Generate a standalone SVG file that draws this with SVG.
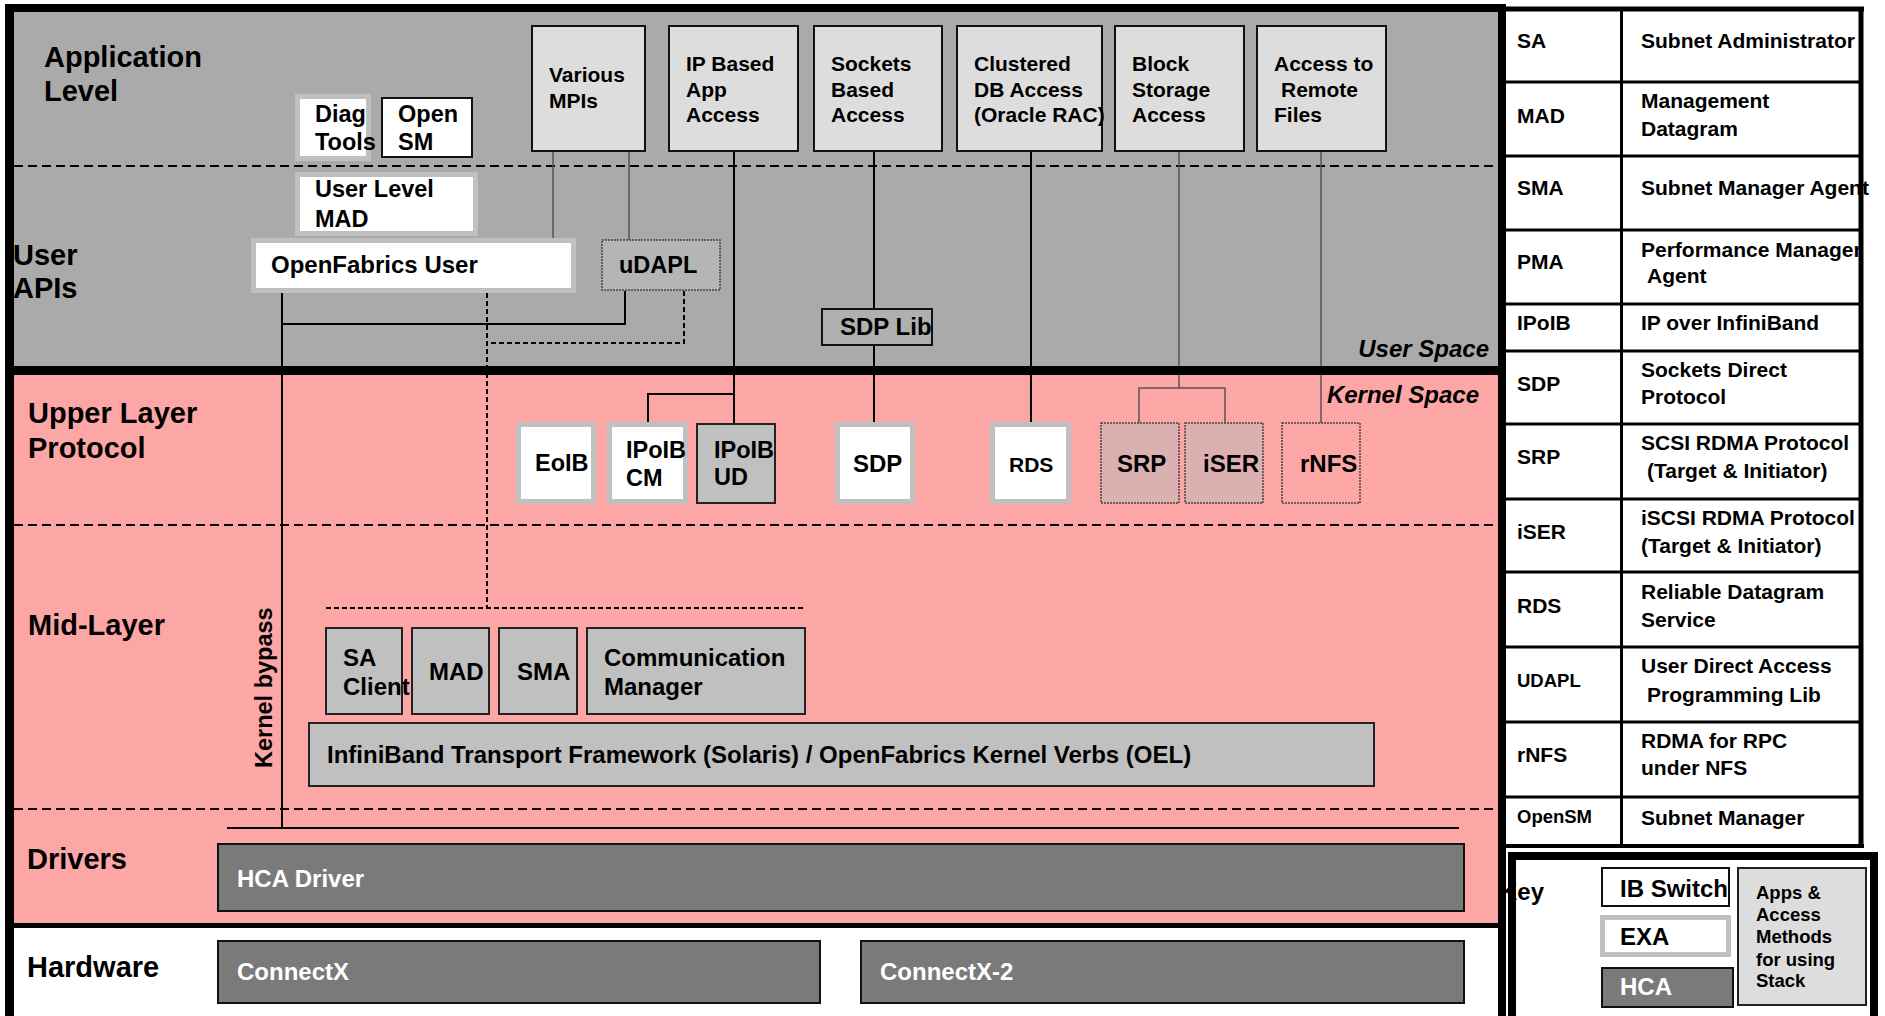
<svg xmlns="http://www.w3.org/2000/svg" width="1885" height="1016" viewBox="0 0 1885 1016">
<style>
text{font-family:"Liberation Sans",Arial,sans-serif;font-weight:bold;fill:#000}
.lbl{font-size:29px}
.f21{font-size:21px}
.f23{font-size:23.5px}
.f24{font-size:24px}
.f18{font-size:18.5px}
.wt{fill:#fff}
.it{font-style:italic;font-size:24px}
.app{fill:#dddddd;stroke:#111;stroke-width:2}
.wg{fill:#fff;stroke:#c0c0c0;stroke-width:5}
.bw{fill:#fff;stroke:#111;stroke-width:2}
.mid{fill:#c0c0c0;stroke:#222;stroke-width:2}
.dark{fill:#7a7a7a;stroke:#111;stroke-width:2}
.dot{stroke:#444;stroke-width:1.5;stroke-dasharray:2 1}
.sec{fill:none;stroke:#000;stroke-width:2;stroke-dasharray:9 5}
.sd{fill:none;stroke:#000;stroke-width:2;stroke-dasharray:5 3}
.sl{fill:none;stroke:#000;stroke-width:2}
.gl{fill:none;stroke:#555;stroke-width:1.5}
.tl{stroke:#000;stroke-width:3}
</style>
<defs>
<clipPath id="clipPerf"><rect x="1621" y="230" width="238" height="74"/></clipPath>
</defs>

<!-- main frame and layers -->
<g id="frame">
<rect x="5" y="4" width="1501" height="1012" fill="#000"/>
<rect x="14" y="12" width="1484" height="354" fill="#aaaaaa"/>
<rect x="14" y="375" width="1484" height="548" fill="#fda6a6"/>
<rect x="14" y="928" width="1484" height="88" fill="#ffffff"/>
<line class="sec" x1="14" y1="166" x2="1498" y2="166"/>
<line class="sec" x1="14" y1="525" x2="1498" y2="525"/>
<line class="sec" x1="14" y1="809" x2="1498" y2="809"/>
<text class="lbl" x="44" y="67">Application</text>
<text class="lbl" x="44" y="101">Level</text>
<text class="lbl" x="13" y="265">User</text>
<text class="lbl" x="13" y="298">APIs</text>
<text class="lbl" x="28" y="423">Upper Layer</text>
<text class="lbl" x="28" y="458">Protocol</text>
<text class="lbl" x="28" y="635">Mid-Layer</text>
<text class="lbl" x="27" y="869">Drivers</text>
<text class="lbl" x="27" y="977">Hardware</text>
<text class="it" x="1489" y="357" text-anchor="end">User Space</text>
<text class="it" x="1479" y="403" text-anchor="end">Kernel Space</text>
<text class="f23" x="272" y="768" transform="rotate(-90 272 768)">Kernel bypass</text>
</g>

<!-- connectors -->
<g id="connectors">
<line class="gl" x1="553" y1="151" x2="553" y2="239"/>
<line class="gl" x1="629" y1="151" x2="629" y2="240"/>
<polyline class="sl" points="734,151 734,424"/>
<polyline class="sl" points="648,422 648,394 734,394"/>
<line class="sl" x1="874" y1="151" x2="874" y2="309"/>
<line class="sl" x1="874" y1="345" x2="874" y2="422"/>
<line class="sl" x1="1031" y1="151" x2="1031" y2="422"/>
<line class="gl" x1="1179" y1="151" x2="1179" y2="388"/>
<polyline class="gl" points="1139,423 1139,388 1225,388 1225,423"/>
<line class="gl" x1="1321" y1="151" x2="1321" y2="423"/>
<line class="sl" x1="282" y1="293" x2="282" y2="828"/>
<polyline class="sl" points="625,291 625,324 282,324"/>
<line class="sd" x1="487" y1="293" x2="487" y2="608"/>
<polyline class="sd" points="684,291 684,343 487,343"/>
<line class="sd" x1="326" y1="608" x2="805" y2="608"/>
<line class="sl" x1="227" y1="828" x2="1459" y2="828"/>
</g>

<!-- user/kernel separators drawn over connectors -->
<g id="separators">
<rect x="14" y="366" width="1484" height="9" fill="#000"/>
<rect x="14" y="923" width="1484" height="5" fill="#000"/>
</g>

<!-- application level -->
<g id="various-mpis"><rect class="app" x="532" y="26" width="113" height="125"/><text class="f21" x="549" y="82">Various</text><text class="f21" x="549" y="108">MPIs</text></g>
<g id="ip-based"><rect class="app" x="669" y="26" width="129" height="125"/><text class="f21" x="686" y="71">IP Based</text><text class="f21" x="686" y="97">App</text><text class="f21" x="686" y="122">Access</text></g>
<g id="sockets-based"><rect class="app" x="814" y="26" width="128" height="125"/><text class="f21" x="831" y="71">Sockets</text><text class="f21" x="831" y="97">Based</text><text class="f21" x="831" y="122">Access</text></g>
<g id="clustered-db"><rect class="app" x="957" y="26" width="145" height="125"/><text class="f21" x="974" y="71">Clustered</text><text class="f21" x="974" y="97">DB Access</text><text class="f21" x="974" y="122">(Oracle RAC)</text></g>
<g id="block-storage"><rect class="app" x="1115" y="26" width="129" height="125"/><text class="f21" x="1132" y="71">Block</text><text class="f21" x="1132" y="97">Storage</text><text class="f21" x="1132" y="122">Access</text></g>
<g id="remote-files"><rect class="app" x="1257" y="26" width="129" height="125"/><text class="f21" x="1274" y="71">Access to</text><text class="f21" x="1281" y="97">Remote</text><text class="f21" x="1274" y="122">Files</text></g>

<g id="diag-tools"><rect class="wg" x="297.5" y="96.5" width="71" height="62"/><text class="f23" x="315" y="122">Diag</text><text class="f23" x="315" y="150">Tools</text></g>
<g id="open-sm"><rect class="bw" x="382" y="98" width="90" height="59"/><text class="f23" x="398" y="122">Open</text><text class="f23" x="398" y="150">SM</text></g>
<g id="user-level-mad"><rect class="wg" x="297.5" y="174.5" width="178" height="59"/><text class="f23" x="315" y="197">User Level</text><text class="f23" x="315" y="227">MAD</text></g>
<g id="openfabrics-user"><rect class="wg" x="253.5" y="240.5" width="320" height="50"/><text class="f24" x="271" y="273">OpenFabrics User</text></g>
<g id="udapl"><rect x="602" y="240" width="118" height="50" fill="#b5b5b5" class="dot"/><text class="f23" x="619" y="273">uDAPL</text></g>
<g id="sdp-lib"><rect x="822" y="309" width="110" height="36" fill="#b0b0b0" stroke="#111" stroke-width="2"/><text class="f24" x="840" y="335">SDP Lib</text></g>

<!-- upper layer protocols -->
<g id="eoib"><rect class="wg" x="518.5" y="424.5" width="75" height="77"/><text class="f23" x="535" y="471">EoIB</text></g>
<g id="ipoib-cm"><rect class="wg" x="609.5" y="424.5" width="76" height="77"/><text class="f23" x="626" y="458">IPoIB</text><text class="f23" x="626" y="486">CM</text></g>
<g id="ipoib-ud"><rect class="mid" x="697" y="424" width="78" height="79"/><text class="f23" x="714" y="458">IPoIB</text><text class="f23" x="714" y="485">UD</text></g>
<g id="sdp"><rect class="wg" x="837.5" y="424.5" width="75" height="77"/><text class="f24" x="853" y="472">SDP</text></g>
<g id="rds"><rect class="wg" x="992.5" y="424.5" width="76" height="77"/><text class="f21" x="1009" y="472">RDS</text></g>
<g id="srp"><rect x="1101" y="423" width="78" height="80" fill="#dbb0b0" class="dot"/><text class="f24" x="1117" y="472">SRP</text></g>
<g id="iser"><rect x="1185" y="423" width="78" height="80" fill="#dbb0b0" class="dot"/><text class="f24" x="1203" y="472">iSER</text></g>
<g id="rnfs"><rect x="1282" y="423" width="78" height="80" fill="#fda6a6" class="dot"/><text class="f24" x="1300" y="472">rNFS</text></g>

<!-- mid layer -->
<g id="sa-client"><rect class="mid" x="326" y="628" width="76" height="86"/><text class="f24" x="343" y="666">SA</text><text class="f24" x="343" y="695">Client</text></g>
<g id="mad"><rect class="mid" x="412" y="628" width="77" height="86"/><text class="f24" x="429" y="680">MAD</text></g>
<g id="sma"><rect class="mid" x="499" y="628" width="78" height="86"/><text class="f24" x="517" y="680">SMA</text></g>
<g id="comm-manager"><rect class="mid" x="587" y="628" width="218" height="86"/><text class="f24" x="604" y="666">Communication</text><text class="f24" x="604" y="695">Manager</text></g>
<g id="ib-framework"><rect class="mid" x="309" y="723" width="1065" height="63"/><text class="f24" x="327" y="763">InfiniBand Transport Framework (Solaris) / OpenFabrics Kernel Verbs (OEL)</text></g>

<!-- drivers and hardware -->
<g id="hca-driver"><rect class="dark" x="218" y="844" width="1246" height="67"/><text class="f24 wt" x="237" y="887">HCA Driver</text></g>
<g id="connectx"><rect class="dark" x="218" y="941" width="602" height="62"/><text class="f24 wt" x="237" y="980">ConnectX</text></g>
<g id="connectx-2"><rect class="dark" x="861" y="941" width="603" height="62"/><text class="f24 wt" x="880" y="980">ConnectX-2</text></g>

<!-- legend table -->
<g id="legend">
<rect x="1506" y="7" width="355" height="840" fill="#fff"/>
<text class="f21" x="1517" y="48">SA</text><text class="f21" x="1641" y="48">Subnet Administrator</text>
<text class="f21" x="1517" y="123">MAD</text><text class="f21" x="1641" y="108">Management</text><text class="f21" x="1641" y="136">Datagram</text>
<text class="f21" x="1517" y="195">SMA</text><text class="f21" x="1641" y="195">Subnet Manager Agent</text>
<text class="f21" x="1517" y="269">PMA</text><text class="f21" x="1641" y="257" clip-path="url(#clipPerf)">Performance Manager</text><text class="f21" x="1647" y="283">Agent</text>
<text class="f21" x="1517" y="330">IPoIB</text><text class="f21" x="1641" y="330">IP over InfiniBand</text>
<text class="f21" x="1517" y="391">SDP</text><text class="f21" x="1641" y="377">Sockets Direct</text><text class="f21" x="1641" y="404">Protocol</text>
<text class="f21" x="1517" y="464">SRP</text><text class="f21" x="1641" y="450">SCSI RDMA Protocol</text><text class="f21" x="1647" y="478">(Target &amp; Initiator)</text>
<text class="f21" x="1517" y="539">iSER</text><text class="f21" x="1641" y="525">iSCSI RDMA Protocol</text><text class="f21" x="1641" y="553">(Target &amp; Initiator)</text>
<text class="f21" x="1517" y="613">RDS</text><text class="f21" x="1641" y="599">Reliable Datagram</text><text class="f21" x="1641" y="627">Service</text>
<text class="f18" x="1517" y="687">UDAPL</text><text class="f21" x="1641" y="673">User Direct Access</text><text class="f21" x="1647" y="702">Programming Lib</text>
<text class="f21" x="1517" y="762">rNFS</text><text class="f21" x="1641" y="748">RDMA for RPC</text><text class="f21" x="1641" y="775">under NFS</text>
<text class="f18" x="1517" y="823">OpenSM</text><text class="f21" x="1641" y="825">Subnet Manager</text>
<g stroke="#000">
<line x1="1502" y1="9" x2="1864" y2="9" stroke-width="5"/>
<line x1="1861" y1="7" x2="1861" y2="848" stroke-width="5"/>
<line x1="1621.5" y1="7" x2="1621.5" y2="847" stroke-width="3"/>
<line x1="1504" y1="846" x2="1864" y2="846" stroke-width="4"/>
<line class="tl" x1="1504" y1="82" x2="1862" y2="82"/>
<line class="tl" x1="1504" y1="156" x2="1862" y2="156"/>
<line class="tl" x1="1504" y1="230" x2="1862" y2="230"/>
<line class="tl" x1="1504" y1="304" x2="1862" y2="304"/>
<line class="tl" x1="1504" y1="351" x2="1862" y2="351"/>
<line class="tl" x1="1504" y1="424" x2="1862" y2="424"/>
<line class="tl" x1="1504" y1="499" x2="1862" y2="499"/>
<line class="tl" x1="1504" y1="572" x2="1862" y2="572"/>
<line class="tl" x1="1504" y1="647" x2="1862" y2="647"/>
<line class="tl" x1="1504" y1="722" x2="1862" y2="722"/>
<line class="tl" x1="1504" y1="797" x2="1862" y2="797"/>
</g>
</g>

<!-- key -->
<g id="key">
<rect x="1512" y="856" width="362" height="164" fill="#fff" stroke="#000" stroke-width="8"/>
<text class="f24" x="1500" y="900">Key</text>
<g id="key-ib-switch"><rect class="bw" x="1602" y="868" width="127" height="38"/><text class="f24" x="1620" y="897">IB Switch</text></g>
<g id="key-exa"><rect class="wg" x="1602.5" y="917.5" width="126" height="37"/><text class="f24" x="1620" y="945">EXA</text></g>
<g id="key-hca"><rect class="dark" x="1602" y="968" width="131" height="39"/><text class="f24 wt" x="1620" y="995">HCA</text></g>
<g id="key-apps"><rect x="1738" y="868" width="128" height="137" fill="#dddddd" stroke="#222" stroke-width="2"/>
<text class="f18" x="1756" y="899">Apps &amp;</text><text class="f18" x="1756" y="921">Access</text><text class="f18" x="1756" y="943">Methods</text><text class="f18" x="1756" y="966">for using</text><text class="f18" x="1756" y="987">Stack</text></g>
</g>
</svg>
